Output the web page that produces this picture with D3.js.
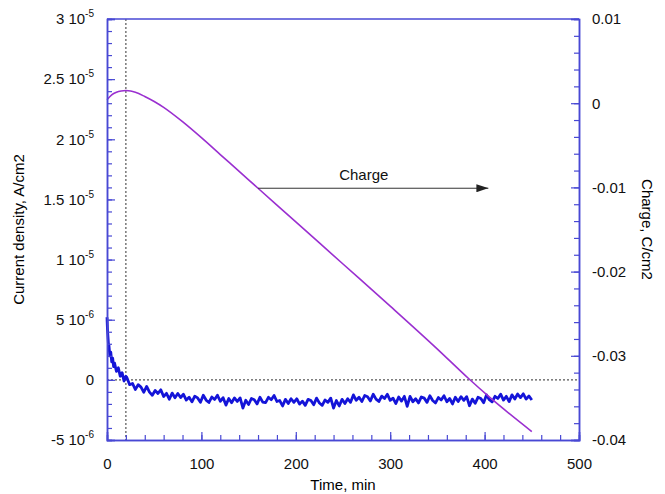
<!DOCTYPE html>
<html>
<head>
<meta charset="utf-8">
<script src="https://cdn.jsdelivr.net/npm/d3@7"></script>
<style>
  body { margin: 0; background: #fff; }
  svg { font-family: "Liberation Sans", Arial, sans-serif; }
</style>
</head>
<body>
<div id="chart"></div>
<script>
// current density, in units of 1e-6 A/cm2
let currentTime = [0, 0.5, 1, 1.5, 2, 3, 4, 5, 6, 7, 8, 10, 12, 14, 16, 18, 20,
  21, 24, 27, 30, 33, 36, 39, 42, 45, 48, 51, 54, 57, 60, 63, 66, 69, 72, 75, 78,
  81, 84, 87, 90, 93, 96, 99, 102, 105, 108, 111, 114, 117, 120, 123, 126, 129, 132,
  135, 138, 141, 144, 147, 150, 153, 156, 159, 162, 165, 168, 171, 174, 177, 180,
  183, 186, 189, 192, 195, 198, 201, 204, 207, 210, 213, 216, 219, 222, 225, 228,
  231, 234, 237, 240, 243, 246, 249, 252, 255, 258, 261, 264, 267, 270, 273, 276,
  279, 282, 285, 288, 291, 294, 297, 300, 303, 306, 309, 312, 315, 318, 321, 324,
  327, 330, 333, 336, 339, 342, 345, 348, 351, 354, 357, 360, 363, 366, 369, 372,
  375, 378, 381, 384, 387, 390, 393, 396, 399, 402, 405, 408, 411, 414, 417, 420,
  423, 426, 429, 432, 435, 438, 441, 444, 447, 450];
let currentVals = [5.2, 4.2, 3.6, 3.0, 2.9, 2.0, 2.3, 1.5, 1.8, 1.1, 1.4, 0.7, 1.0, 0.3, 0.6, -0.1, 0.3,
  0.2, -0.4, -0.3, -0.8, -0.4, -0.6, -1.03, -0.55, -1.02, -1.28, -0.88, -1.13, -0.83, -1.38, -1.12, -1.61, -1.1, -1.49, -1.13, -1.47,
  -1.2, -1.68, -1.45, -1.83, -1.36, -1.5, -1.87, -1.28, -1.68, -1.88, -1.43, -1.63, -1.28, -1.78, -1.48, -2.1, -1.55, -1.9,
  -1.5, -1.8, -1.5, -2.35, -1.7, -2.05, -1.55, -1.65, -2.0, -1.45, -1.85, -1.9, -1.45, -1.65, -1.3, -1.8,
  -1.72, -2.17, -1.62, -1.97, -1.57, -1.87, -1.57, -2.02, -1.77, -2.12, -1.62, -1.72, -2.07, -1.52, -1.92, -2.12,
  -1.67, -1.87, -1.52, -2.35, -1.72, -2.17, -1.62, -1.97, -1.57, -1.87, -1.25, -1.7, -1.45, -1.8, -1.3, -1.4,
  -1.75, -1.2, -1.6, -1.8, -1.35, -1.55, -1.2, -1.7, -1.52, -1.97, -1.42, -1.77, -1.37, -2.2, -1.37, -1.82,
  -1.57, -1.92, -1.42, -1.52, -1.87, -1.32, -1.72, -1.92, -1.47, -1.67, -1.32, -1.82, -1.55, -2.0, -1.45, -1.8,
  -1.4, -1.7, -1.4, -2.15, -1.6, -1.95, -1.45, -1.55, -1.9, -1.25, -1.65, -1.83, -1.37, -1.55, -1.19, -1.68,
  -1.37, -1.81, -1.25, -1.59, -1.18, -1.47, -1.16, -1.6, -1.34, -1.68];

// charge, C/cm2
let chargeTime = [0, 5, 10, 15, 20, 25, 30, 40, 50, 60, 80, 100, 120, 140, 160, 200, 250, 300, 350, 383, 404, 450];
let chargeVals = [0.0004, 0.0010, 0.0013, 0.00145, 0.0015, 0.00145, 0.0013, 0.0008, 0.0002, -0.0005, -0.0022,
  -0.0041, -0.0061, -0.0081, -0.0101, -0.0141, -0.0191, -0.0241, -0.0292, -0.0327, -0.0348, -0.0390];

// axis ticks
let xTicks = [0, 100, 200, 300, 400, 500];
let leftTicks = [-5, 0, 5, 10, 15, 20, 25, 30];
let leftTickLabels = [["-5 10", "-6"], ["0", ""], ["5 10", "-6"], ["1 10", "-5"], ["1.5 10", "-5"],
  ["2 10", "-5"], ["2.5 10", "-5"], ["3 10", "-5"]];
let rightTicks = [0.01, 0, -0.01, -0.02, -0.03, -0.04];
let rightTickLabels = ["0.01", "0", "-0.01", "-0.02", "-0.03", "-0.04"];

// annotation: arrow label on the charge curve
let arrowFrom = [160, -0.0101];
let arrowTo = [404, -0.0101];
let markTime = 20;

let margin = { top: 19, right: 86, bottom: 54, left: 107 };
let width = 665 - margin.left - margin.right;
let height = 494 - margin.top - margin.bottom;

let axisColor = '#4848d4';

let svg = d3.select('#chart')
  .append('svg')
  .attr('width', 665)
  .attr('height', 494);

let g = svg.append('g')
  .attr('transform', `translate(${margin.left}, ${margin.top})`);

let x = d3.scaleLinear().domain([0, 500]).range([0, width]);
let y = d3.scaleLinear().domain([-5, 30]).range([height, 0]);
let y2 = d3.scaleLinear().domain([-0.04, 0.01]).range([height, 0]);

// dotted guide lines
g.append('line')
  .attr('x1', x(markTime)).attr('x2', x(markTime))
  .attr('y1', 0).attr('y2', height)
  .attr('stroke', '#555').attr('stroke-width', 1.2)
  .attr('stroke-dasharray', '2,2');

g.append('line')
  .attr('x1', 0).attr('x2', width)
  .attr('y1', y(0)).attr('y2', y(0))
  .attr('stroke', '#555').attr('stroke-width', 1.2)
  .attr('stroke-dasharray', '2,2');

// current line (noisy, drawn thick so it reads as a band)
let currentLine = d3.line()
  .x((d, i) => x(currentTime[i]))
  .y(d => y(d));

g.append('path')
  .datum(currentVals)
  .attr('d', currentLine)
  .attr('fill', 'none')
  .attr('stroke', '#1414d8')
  .attr('stroke-width', 2.8)
  .attr('stroke-linejoin', 'round');

// charge curve
let chargeLine = d3.line()
  .x((d, i) => x(chargeTime[i]))
  .y(d => y2(d))
  .curve(d3.curveMonotoneX);

g.append('path')
  .datum(chargeVals)
  .attr('d', chargeLine)
  .attr('fill', 'none')
  .attr('stroke', '#9a2fd0')
  .attr('stroke-width', 1.6);

// arrow with label
svg.append('defs').append('marker')
  .attr('id', 'arrowhead')
  .attr('viewBox', '0 0 12 8')
  .attr('refX', 12).attr('refY', 4)
  .attr('markerWidth', 12).attr('markerHeight', 8)
  .attr('markerUnits', 'userSpaceOnUse')
  .attr('orient', 'auto')
  .append('path')
  .attr('d', 'M0,0 L12,4 L0,8 Z')
  .attr('fill', '#222');

g.append('line')
  .attr('x1', x(arrowFrom[0])).attr('y1', y2(arrowFrom[1]))
  .attr('x2', x(arrowTo[0])).attr('y2', y2(arrowTo[1]))
  .attr('stroke', '#333').attr('stroke-width', 1)
  .attr('marker-end', 'url(#arrowhead)');

g.append('text')
  .text('Charge')
  .attr('x', x(272))
  .attr('y', y2(arrowFrom[1]) - 8)
  .attr('text-anchor', 'middle')
  .style('font-size', '15px')
  .style('fill', '#111');

// frame
g.append('line')
  .attr('x1', 0).attr('x2', width).attr('y1', 0).attr('y2', 0)
  .attr('stroke', axisColor).attr('stroke-width', 1.5);

// minor ticks
g.append('g')
  .attr('transform', `translate(0, ${height})`)
  .call(d3.axisBottom(x).tickValues(d3.range(0, 501, 20)).tickSize(-5).tickFormat(''));
g.append('g')
  .call(d3.axisLeft(y).tickValues(d3.range(-5, 30.5, 1)).tickSize(-5).tickFormat(''));
g.append('g')
  .attr('transform', `translate(${width}, 0)`)
  .call(d3.axisRight(y2).tickValues(d3.range(-0.04, 0.0101, 0.002)).tickSize(-5).tickFormat(''));

// major ticks
g.append('g')
  .attr('class', 'major')
  .attr('transform', `translate(0, ${height})`)
  .call(d3.axisBottom(x).tickValues(xTicks).tickSize(-8).tickPadding(18).tickFormat(d => d));

let leftAxis = g.append('g')
  .attr('class', 'major')
  .call(d3.axisLeft(y).tickValues(leftTicks).tickSize(-8).tickPadding(13).tickFormat(''));

leftAxis.selectAll('.tick text').each(function (d, i) {
  let t = d3.select(this);
  let lab = leftTickLabels[leftTicks.indexOf(d)];
  t.append('tspan').text(lab[0]);
  if (lab[1]) {
    t.append('tspan').text(lab[1]).attr('dy', -7).style('font-size', '10px');
  }
});

g.append('g')
  .attr('class', 'major')
  .attr('transform', `translate(${width}, 0)`)
  .call(d3.axisRight(y2).tickValues(rightTicks).tickSize(-8).tickPadding(13)
    .tickFormat((d, i) => rightTickLabels[i]));

g.selectAll('.domain').attr('stroke', axisColor).attr('stroke-width', 1.5);
g.selectAll('.tick line').attr('stroke', axisColor).attr('stroke-width', 1.2);
g.selectAll('.tick text').style('font-size', '15px').style('fill', '#111')
  .style('font-family', '"Liberation Sans", Arial, sans-serif');

// axis titles
g.append('text')
  .text('Time, min')
  .attr('x', width / 2)
  .attr('y', height + 50)
  .attr('text-anchor', 'middle')
  .style('font-size', '15px');

g.append('text')
  .text('Current density, A/cm2')
  .attr('transform', `translate(${-83}, ${height / 2}) rotate(-90)`)
  .attr('text-anchor', 'middle')
  .style('font-size', '15px');

g.append('text')
  .text('Charge, C/cm2')
  .attr('transform', `translate(${width + 63}, ${height / 2}) rotate(90)`)
  .attr('text-anchor', 'middle')
  .style('font-size', '15px');
</script>
</body>
</html>
